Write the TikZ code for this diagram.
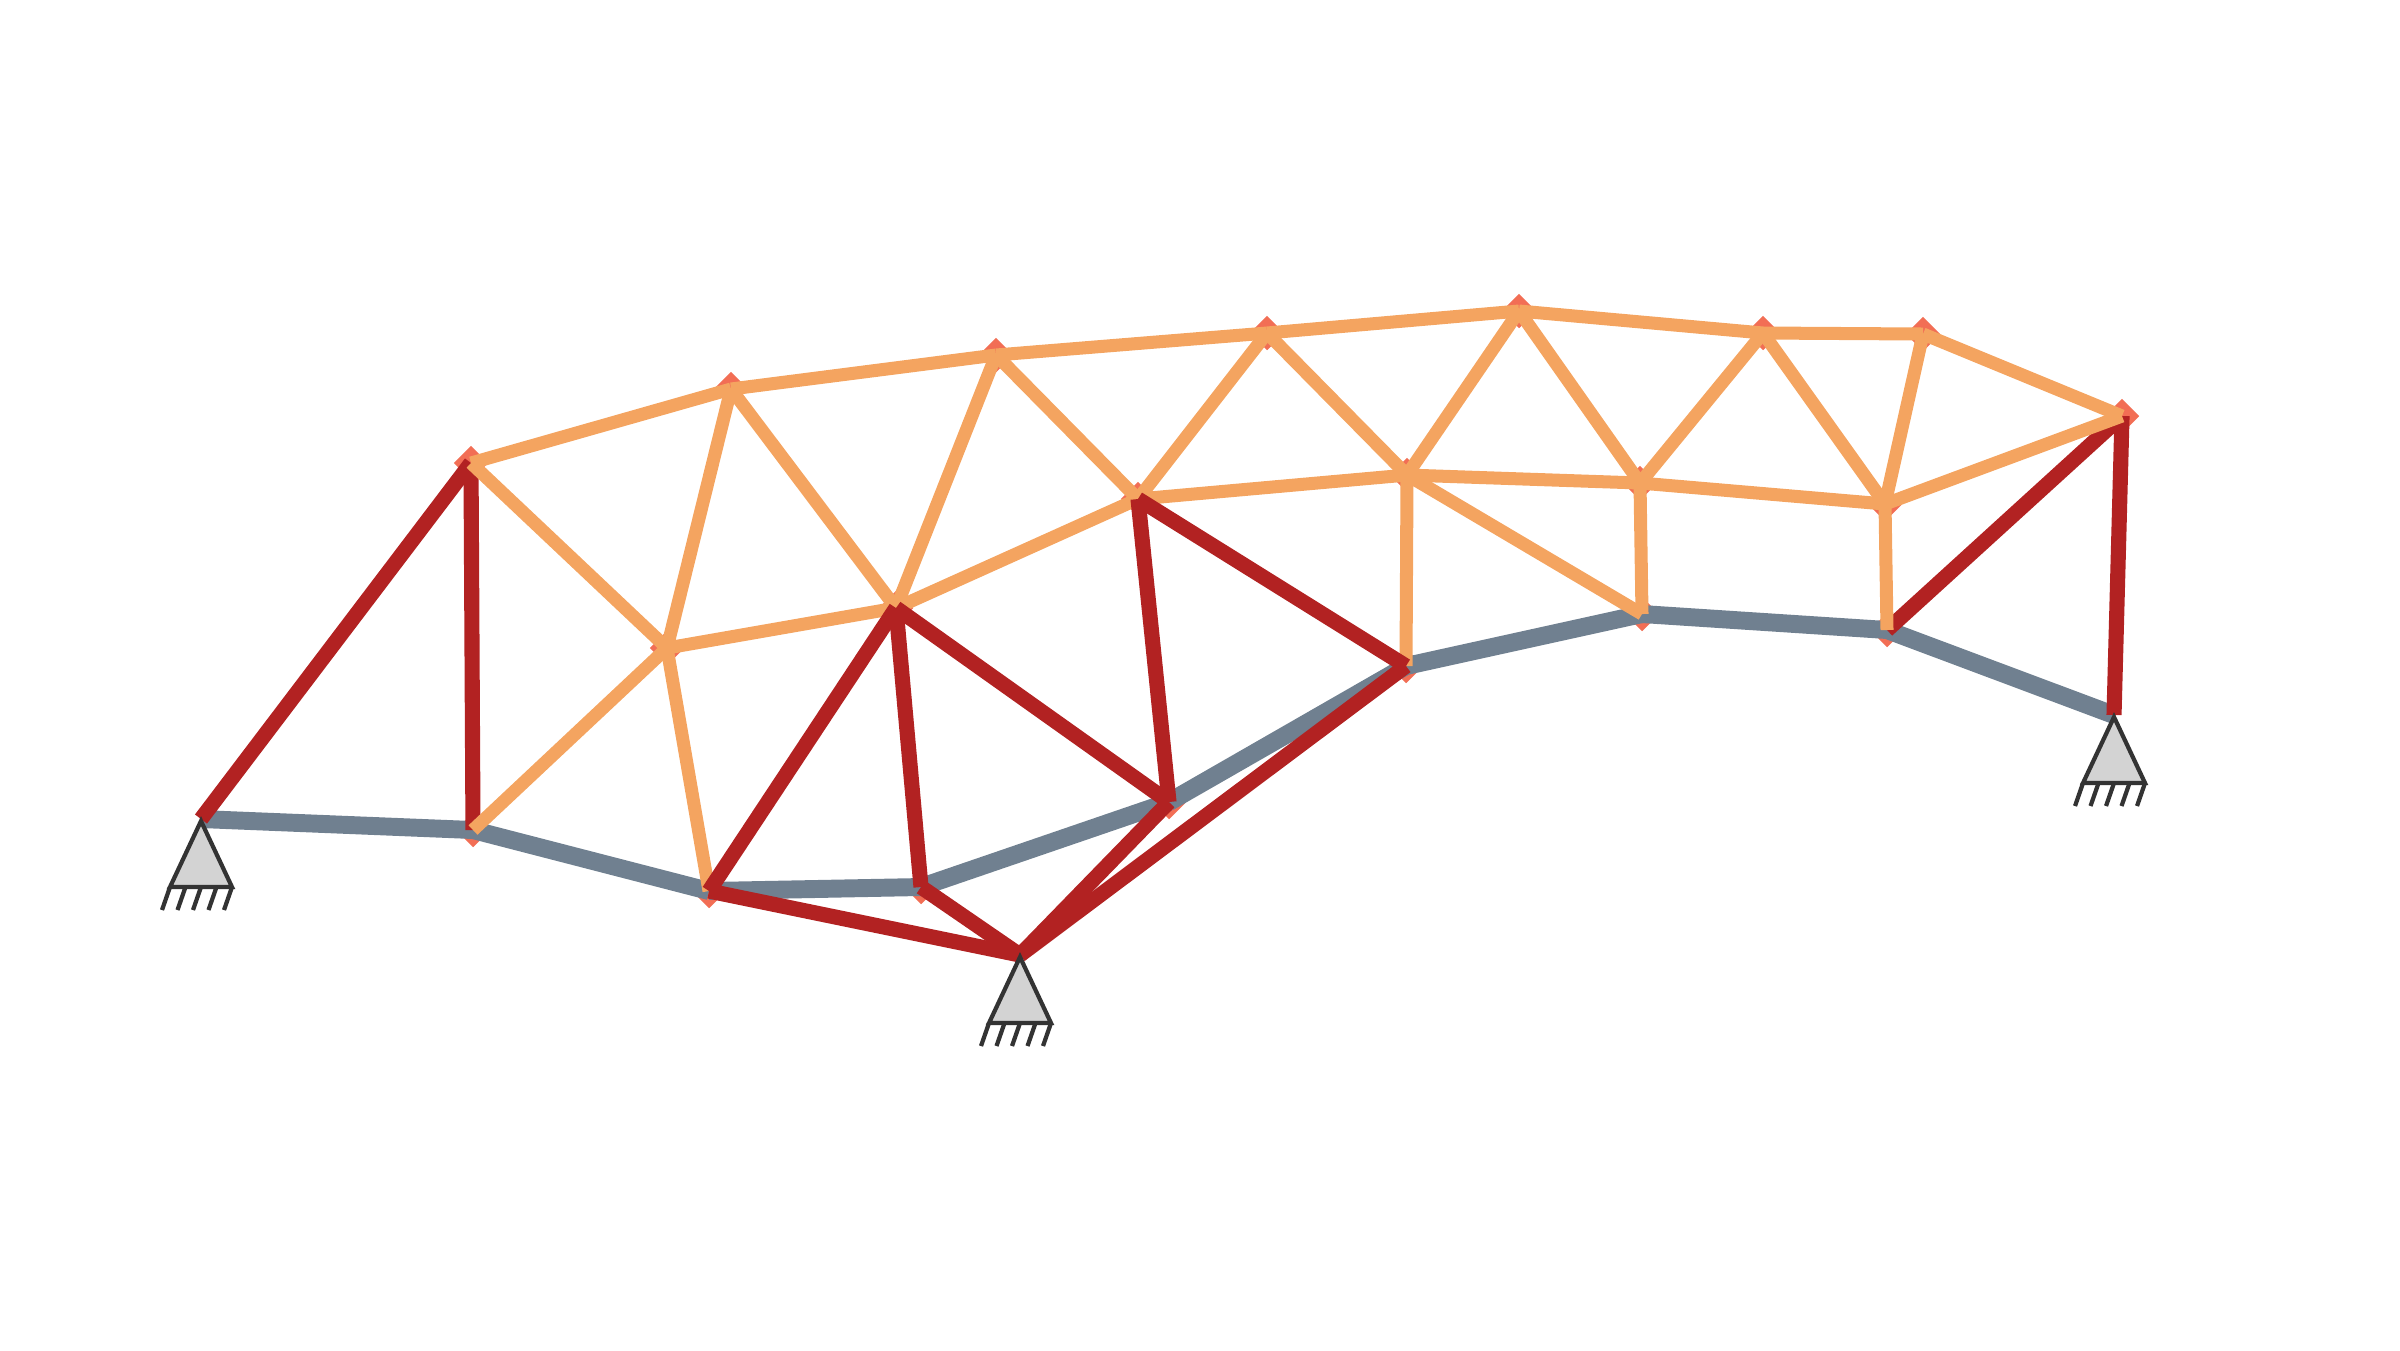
\documentclass[tikz,border=0pt]{standalone}
\usetikzlibrary{shapes.geometric}
\definecolor{barwarm}{HTML}{F4A460}
\definecolor{barred}{HTML}{B22222}
\definecolor{bargray}{HTML}{708090}
\definecolor{jointred}{HTML}{F26E55}
\definecolor{basedark}{HTML}{333333}
\definecolor{basefill}{HTML}{D3D3D3}
\tikzset{
    joint/.style={shape=diamond, fill=jointred, draw=none, inner sep=0pt, minimum size=0.35cm},
    warm/.style={barwarm, line width=3.7pt},
    tense/.style={barred, line width=4.3pt},
    chord/.style={bargray, line width=5.1pt},
    base/.style={basedark, line width=1.2pt}
}
\begin{document}
\begin{tikzpicture}[x=0.01cm, y=-0.01cm]
    \useasboundingbox (0,0) rectangle (2400,1350);
    % supports
    \coordinate (A) at (201,819);
    \coordinate (S) at (1020,955);
    \coordinate (B) at (2114,715);
    % lower chord
    \coordinate (L1) at (473,830);
    \coordinate (L2) at (709,891);
    \coordinate (L3) at (921,887);
    \coordinate (L4) at (1169,802);
    \coordinate (L5) at (1406,666);
    \coordinate (L6) at (1642,614);
    \coordinate (L7) at (1887,630);
    % middle row
    \coordinate (M1) at (667,648);
    \coordinate (M2) at (896,608);
    \coordinate (M3) at (1138,499);
    \coordinate (M4) at (1407,475);
    \coordinate (M5) at (1640,483);
    \coordinate (M6) at (1885,504);
    % upper chord
    \coordinate (U1) at (471,463);
    \coordinate (U2) at (731,389);
    \coordinate (U3) at (996,355);
    \coordinate (U4) at (1267,333);
    \coordinate (U5) at (1519,311);
    \coordinate (U6) at (1763,333);
    \coordinate (U7) at (1923,334);
    \coordinate (R) at (2122,416);

    \foreach \p in {L1,L2,L3,L4,L5,L6,L7,M1,M2,M3,M4,M5,M6,U1,U2,U3,U4,U5,U6,U7,R}
        \node[joint] (d\p) at (\p) {};

    \foreach \p/\q in {A/L1,L1/L2,L2/L3,L3/L4,L4/L5,L5/L6,L6/L7,L7/B}
        \draw[chord] (\p) -- (\q);
    \foreach \p/\q in {A/U1,U1/L1,L7/R,R/B}
        \draw[tense] (\p) -- (\q);
    \foreach \p/\q in {U1/U2,U2/U3,U3/U4,U4/U5,U5/U6,U6/U7,U7/R,U1/M1,U2/M1,U2/M2,U3/M2,U3/M3,U4/M3,U4/M4,U5/M4,U5/M5,U6/M5,U6/M6,U7/M6,R/M6,M1/M2,M2/M3,M3/M4,M4/M5,M5/M6,M1/L1,M1/L2,M4/L5,M4/L6,M5/L6,M6/L7}
        \draw[warm] (\p) -- (\q);
    \foreach \p/\q in {M2/L2,M2/L3,M2/L4,M3/L4,M3/L5,L2/S,L3/S,L4/S,L5/S}
        \draw[tense] (\p) -- (\q);

    \foreach \s in {A,S,B} {
        \draw[base, fill=basefill] (\s) ++(0,2) -- ++(-31,66) -- ++(62,0) -- cycle;
        \foreach \i in {-31,-15.5,0,15.5,31}
            \draw[base] (\s) ++(\i,68) -- ++(-8,23);
    }
\end{tikzpicture}
\end{document}
